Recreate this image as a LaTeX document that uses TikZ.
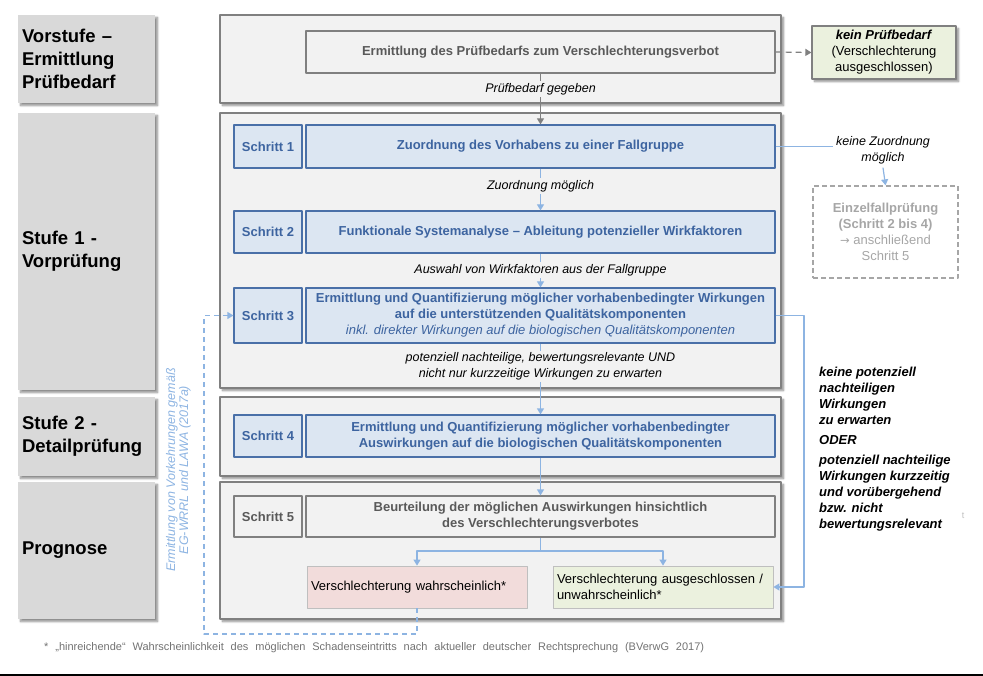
\documentclass[tikz,border=0pt]{standalone}
\usepackage{fontspec}
\setmainfont{Liberation Sans}
\newfontfamily\arrowfont{DejaVu Sans}
\usetikzlibrary{arrows.meta,shadows.blur}
\definecolor{labgray}{HTML}{D9D9D9}
\definecolor{framefill}{HTML}{F2F2F2}
\definecolor{frameline}{HTML}{808080}
\definecolor{bluefill}{HTML}{DCE6F2}
\definecolor{blueline}{HTML}{4A70A8}
\definecolor{bluetext}{HTML}{3D64A0}
\definecolor{arrowblue}{HTML}{8DB4E2}
\definecolor{graytext}{HTML}{595959}
\definecolor{palegray}{HTML}{A6A6A6}
\definecolor{pinkfill}{HTML}{F2DCDB}
\definecolor{greenfill}{HTML}{EBF1DE}
\newcommand{\fs}[2]{\fontsize{#1}{#2}\selectfont}
\begin{document}
\begin{tikzpicture}[x=1pt,y=-1pt,>={Triangle[width=7pt,length=6pt]},line join=round,
  softshadow/.style={blur shadow={shadow xshift=2.5pt,shadow yshift=-2.5pt,shadow blur radius=2pt,shadow blur steps=6,shadow opacity=45}},
  stage/.style={fill=labgray,softshadow,text width=129pt,inner xsep=4pt,inner ysep=0pt,align=left,font=\bfseries\fs{18.5}{23}},
  frame/.style={draw=frameline,line width=1.3pt,fill=framefill,softshadow,minimum width=561pt},
  nrbox/.style={draw=blueline,line width=1.2pt,fill=bluefill,text=bluetext,font=\bfseries\fs{13}{16},minimum width=68pt,minimum height=43pt,inner sep=2pt},
  taskbox/.style={nrbox,minimum width=469pt,align=center},
  pale/.style={draw=frameline,fill=framefill,text=graytext},
  flow/.style={->,draw=arrowblue,line width=1.2pt},
  cond/.style={fill=framefill,font=\itshape\fs{12.5}{16},inner sep=2pt,align=center},
  result/.style={draw=black!25,line width=.8pt,minimum width=220pt,minimum height=42pt,text width=212pt,inner xsep=4pt,align=left,font=\fs{13}{16}}]
\useasboundingbox (0,0) rectangle (983,676);

\node[stage,minimum height=88pt] (st0) at (86.5,59) {Vorstufe –\\Ermittlung\\Prüfbedarf};
\node[stage,minimum height=277pt] (st1) at (86.5,251.5) {Stufe 1 -\\Vorprüfung};
\node[stage,minimum height=79pt] (st2) at (86.5,436.5) {Stufe 2 -\\Detailprüfung};
\node[stage,minimum height=137pt] (st3) at (86.5,550.5) {Prognose};

\node[frame,minimum height=88pt] (fr0) at (500.5,59) {};
\node[frame,minimum height=275pt] (fr1) at (500.5,250.5) {};
\node[frame,minimum height=79pt] (fr2) at (500.5,436.5) {};
\node[frame,minimum height=137pt] (fr3) at (500.5,550.5) {};

\node[taskbox,pale,minimum height=42pt] (pb) at (540.5,52) {Ermittlung des Prüfbedarfs zum Verschlechterungsverbot};
\node[nrbox] (s1) at (268,146.5) {Schritt 1};
\node[taskbox] (m1) at (540.5,146.5) {Zuordnung des Vorhabens zu einer Fallgruppe};
\node[nrbox,minimum height=42pt] (s2) at (268,232) {Schritt 2};
\node[taskbox,minimum height=42pt] (m2) at (540.5,232) {Funktionale Systemanalyse – Ableitung potenzieller Wirkfaktoren};
\node[nrbox,minimum height=55pt] (s3) at (268,315.5) {Schritt 3};
\node[taskbox,minimum height=55pt] (m3) at (540.5,315.5) {Ermittlung und Quantifizierung möglicher vorhabenbedingter Wirkungen\\auf die unterstützenden Qualitätskomponenten\\{\mdseries\itshape inkl. direkter Wirkungen auf die biologischen Qualitätskomponenten}};
\node[nrbox,minimum height=42pt] (s4) at (268,436) {Schritt 4};
\node[taskbox,minimum height=42pt] (m4) at (540.5,436) {Ermittlung und Quantifizierung möglicher vorhabenbedingter\\Auswirkungen auf die biologischen Qualitätskomponenten};
\node[nrbox,pale,minimum height=41pt] (s5) at (268,516.5) {Schritt 5};
\node[taskbox,pale,minimum height=41pt] (m5) at (540.5,516.5) {Beurteilung der möglichen Auswirkungen hinsichtlich\\des Verschlechterungsverbotes};
\node[result,fill=pinkfill] (vw) at (417,587) {Verschlechterung wahrscheinlich*};
\node[result,fill=greenfill] (va) at (663,587) {Verschlechterung ausgeschlossen /\\unwahrscheinlich*};

\node[draw=frameline,line width=1.2pt,fill=greenfill,softshadow,minimum width=144pt,minimum height=53pt,align=center,font=\fs{13}{16}] (kp) at (884,52.5) {\textbf{\itshape kein Prüfbedarf}\\(Verschlechterung\\ausgeschlossen)};
\node[font=\itshape\fs{12.5}{15.5},align=center] (kz) at (883,150.5) {keine Zuordnung\\möglich};
\node[draw=palegray,line width=1.3pt,dash pattern=on 5pt off 3pt,minimum width=145pt,minimum height=92pt,align=center,text=palegray,font=\fs{13}{16}] (ez) at (885.5,232) {\textbf{Einzelfallprüfung}\\\textbf{(Schritt 2 bis 4)}\\{\arrowfont\fs{11.5}{16}→} anschließend\\Schritt 5};
\node[anchor=west,inner sep=0pt,align=left,font=\bfseries\itshape\fs{13}{16}] (kw) at (819,449) {keine potenziell\\nachteiligen\\Wirkungen\\zu erwarten\\[4pt]ODER\\[4pt]potenziell nachteilige\\Wirkungen kurzzeitig\\und vorübergehend\\bzw. nicht\\bewertungsrelevant};
\node[text=black!25,font=\fs{9}{9}] (tt) at (963,516) {t};

\coordinate (br) at (540.5,551);
\coordinate (rt) at (804,315.5);
\coordinate (lp) at (204,634);
\draw[->,draw=frameline,line width=1.2pt] (pb.south) -- (m1.north);
\draw[->,draw=frameline,line width=1.2pt,dash pattern=on 6pt off 4pt] (pb.east) -- (kp.west);
\draw[flow] (m1.south) -- (m2.north);
\draw[flow] (m2.south) -- (m3.north);
\draw[flow] (m3.south) -- (m4.north);
\draw[flow] (m4.south) -- (m5.north);
\draw[flow,-] (m5.south) -- (br);
\draw[flow] (br) -| (vw.north);
\draw[flow] (br) -| (va.north);
\draw[flow,-] (m1.east) -- (m1.east -| kz.west);
\draw[flow] (kz.south) -- (ez.north);
\draw[flow] (m3.east) -- (rt) |- (va.east);
\draw[flow,dash pattern=on 5pt off 4pt] (vw.south) |- (lp) |- (s3.west);

\node[cond] (c0) at (540.5,89) {Prüfbedarf gegeben};
\node[cond] (c1) at (540.5,186) {Zuordnung möglich};
\node[cond] (c2) at (540.5,270) {Auswahl von Wirkfaktoren aus der Fallgruppe};
\node[cond] (c3) at (540.5,366.5) {potenziell nachteilige, bewertungsrelevante UND\\nicht nur kurzzeitige Wirkungen zu erwarten};

\node[rotate=90,text=arrowblue,align=center,font=\itshape\fs{12.5}{13}] (vk) at (178.5,470) {Ermittlung von Vorkehrungen gemäß\\EG-WRRL und LAWA (2017a)};
\node[anchor=west,inner sep=0pt,text=graytext!85,font=\fs{11}{13}] (fn) at (44,648) {\hbox to 660pt{* „hinreichende“ Wahrscheinlichkeit des möglichen Schadenseintritts nach aktueller deutscher Rechtsprechung (BVerwG 2017)}};
\draw[line width=1.5pt] (0,675) -- (983,675);
\end{tikzpicture}
\end{document}
